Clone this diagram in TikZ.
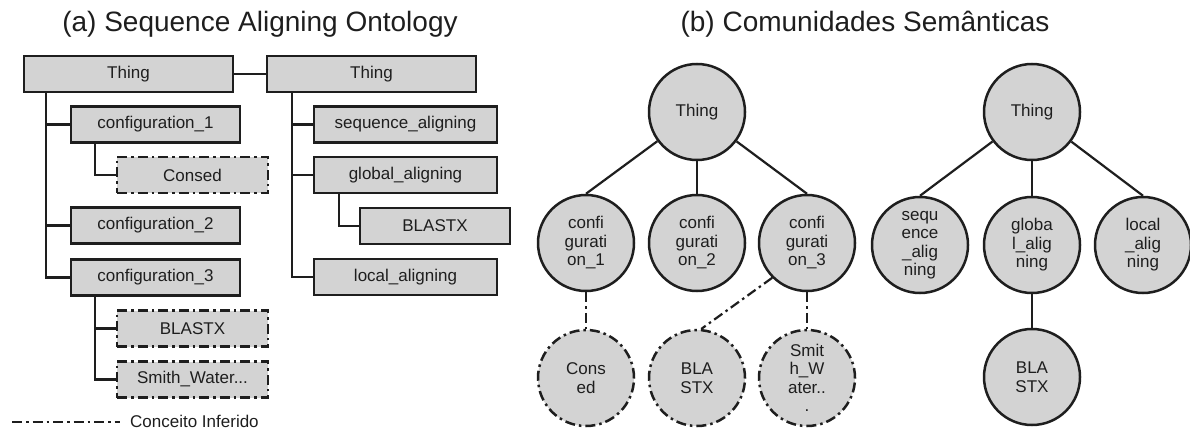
\documentclass[tikz,border=0pt]{standalone}
\usepackage{fontspec}
\setmainfont{Liberation Sans}
\definecolor{nodefill}{HTML}{D3D3D3}
\definecolor{ink}{HTML}{1E1E1E}
\tikzset{
  txt/.style={font=\fontsize{17}{18.5}\selectfont, text=ink},
  classbox/.style={txt, draw=ink, line width=2.5pt, fill=nodefill, rectangle,
    inner sep=0pt, minimum height=36pt},
  inferred/.style={dash pattern=on 10pt off 4pt on 2.5pt off 4pt},
  inferredbox/.style={classbox, inferred},
  concept/.style={txt, draw=ink, line width=2.5pt, fill=nodefill, circle,
    inner sep=0pt, minimum size=96pt, align=center},
  inferredconcept/.style={concept, inferred},
  link/.style={draw=ink, line width=2.2pt},
  inferredlink/.style={link, inferred},
  heading/.style={font=\fontsize{28}{30}\selectfont, text=ink}
}
\begin{document}
\begin{tikzpicture}[x=1pt,y=-1pt]
\useasboundingbox (0,0) rectangle (1190,430);

% ---------- (a) class hierarchy ----------
\node[heading] (titleA) at (260,24) {(a) Sequence Aligning Ontology};

\node[classbox, minimum width=209pt] (thingL) at (128.5,74) {Thing};
\node[classbox, minimum width=209pt] (thingR) at (371.5,74) {Thing};

\node[classbox, minimum width=169pt] (conf1) at (155.5,124.5) {configuration\_1};
\node[inferredbox, minimum width=151pt] (consed) at (192.5,175) {Consed};
\node[classbox, minimum width=169pt] (conf2) at (155.5,225.5) {configuration\_2};
\node[classbox, minimum width=169pt] (conf3) at (155.5,277.5) {configuration\_3};
\node[inferredbox, minimum width=151pt] (blastxA) at (192.5,328.5) {BLASTX};
\node[inferredbox, minimum width=151pt] (smithA) at (192.5,379.5) {Smith\_Water...};

\node[classbox, minimum width=183pt] (seqA) at (405.5,124.5) {sequence\_aligning};
\node[classbox, minimum width=183pt] (globA) at (405.5,175) {global\_aligning};
\node[classbox, minimum width=150pt] (blastxR) at (435,226) {BLASTX};
\node[classbox, minimum width=183pt] (locA) at (405.5,277) {local\_aligning};

% trunks of the two trees
\coordinate (trunkL) at ([xshift=23pt]thingL.south west);
\coordinate (trunkR) at ([xshift=26pt]thingR.south west);
\coordinate (sub1) at ([xshift=25pt]conf1.south west);
\coordinate (sub3) at ([xshift=25pt]conf3.south west);
\coordinate (subG) at ([xshift=26pt]globA.south west);

\draw[link] (thingL.east) -- (thingR.west);

\draw[link] (trunkL) |- (conf3.west);
\draw[link] (trunkL |- conf1.west) -- (conf1.west);
\draw[link] (trunkL |- conf2.west) -- (conf2.west);
\draw[link] (sub1) |- (consed.west);
\draw[link] (sub3) |- (smithA.west);
\draw[link] (sub3 |- blastxA.west) -- (blastxA.west);

\draw[link] (trunkR) |- (locA.west);
\draw[link] (trunkR |- seqA.west) -- (seqA.west);
\draw[link] (trunkR |- globA.west) -- (globA.west);
\draw[link] (subG) |- (blastxR.west);

% legend
\coordinate (legA) at (12,422);
\coordinate (legB) at (120,422);
\draw[inferredlink] (legA) -- (legB);
\node[txt, anchor=west, inner sep=0pt] (legtext) at (130,421) {Conceito Inferido};

% ---------- (b) semantic communities ----------
\node[heading] (titleB) at (865,24) {(b) Comunidades Semânticas};

\node[concept] (thing1) at (697,112) {Thing};
\node[concept] (c1) at (586,243) {confi\\gurati\\on\_1};
\node[concept] (c2) at (697,243) {confi\\gurati\\on\_2};
\node[concept] (c3) at (807,243) {confi\\gurati\\on\_3};
\node[inferredconcept] (consedB) at (586,378) {Cons\\ed};
\node[inferredconcept] (blastxB) at (697,378) {BLA\\STX};
\node[inferredconcept] (smithB) at (807,378) {Smit\\h\_W\\ater..\\.};

\draw[link] (thing1) -- (c1.north);
\draw[link] (thing1) -- (c2);
\draw[link] (thing1) -- (c3.north);
\draw[inferredlink] (c1) -- (consedB);
\draw[inferredlink] (c3.south west) -- (blastxB.85);
\draw[inferredlink] (c3) -- (smithB);

\node[concept] (thing2) at (1032,112) {Thing};
\node[concept] (seqB) at (920,245) {sequ\\ence\\\_alig\\ning};
\node[concept] (globB) at (1032,245) {globa\\l\_alig\\ning};
\node[concept] (locB) at (1143,245) {local\\\_alig\\ning};
\node[concept] (blastxC) at (1032,377) {BLA\\STX};

\draw[link] (thing2) -- (seqB.north);
\draw[link] (thing2) -- (globB);
\draw[link] (thing2) -- (locB.north);
\draw[link] (globB) -- (blastxC);
\end{tikzpicture}
\end{document}
